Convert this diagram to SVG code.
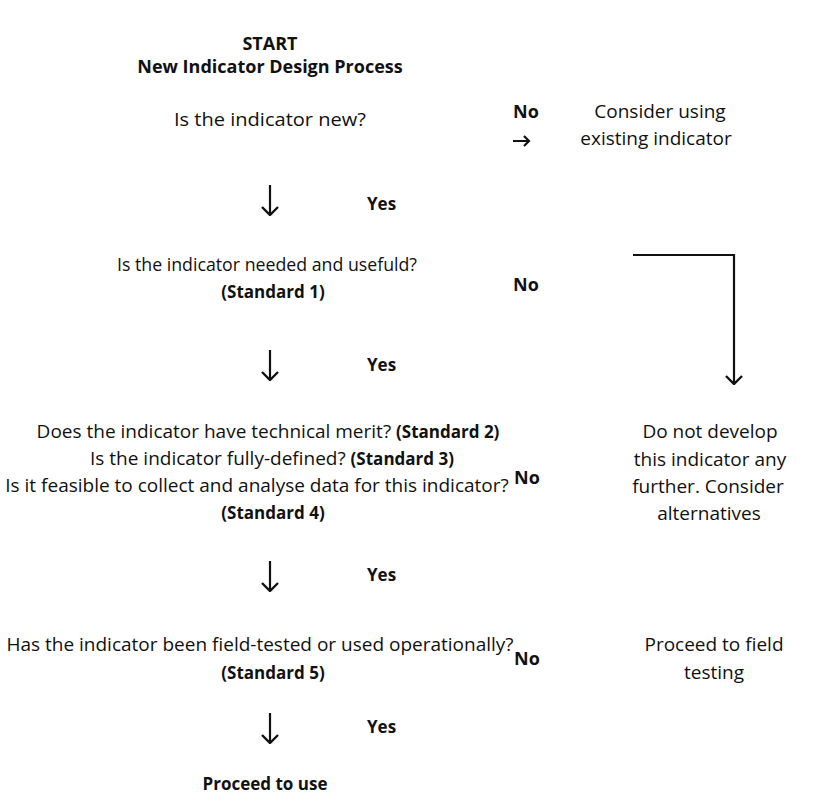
<svg xmlns="http://www.w3.org/2000/svg" width="820" height="804" viewBox="0 0 820 804">
  <style>
    text { font-family: "Open Sans", Lato, "Liberation Sans", sans-serif; font-size: 19px; fill: #111; }
    .c { text-anchor: middle; }
    .b { font-weight: bold; font-size: 18px; }
    .s { font-weight: bold; font-size: 17px; }
    .conn { fill: none; stroke: #111; stroke-width: 2.2; }
  </style>
  <defs>
    <marker id="head" viewBox="0 0 10 18" refX="9" refY="9" markerWidth="10" markerHeight="18" markerUnits="userSpaceOnUse" orient="auto">
      <path d="M1,1 L9,9 L1,17" fill="none" stroke="#111" stroke-width="2.4"/>
    </marker>
  </defs>
  <rect width="820" height="804" fill="#fff"/>

  <g id="start">
    <text class="c b" x="270" y="50">START</text>
    <text class="c b" x="270" y="73">New Indicator Design Process</text>
  </g>

  <g id="q-new">
    <text class="c" x="270" y="126" textLength="192" lengthAdjust="spacingAndGlyphs">Is the indicator new?</text>
  </g>
  <g id="no-new">
    <text class="b" x="513" y="118">No</text>
  </g>
  <g id="existing">
    <text class="c" x="660" y="118">Consider using</text>
    <text class="c" x="656" y="145">existing indicator</text>
  </g>

  <g id="q-needed">
    <text class="c" x="267" y="271" textLength="300" lengthAdjust="spacingAndGlyphs">Is the indicator needed and usefuld?</text>
    <text class="c s" x="273" y="298">(Standard 1)</text>
  </g>
  <g id="no-needed">
    <text class="b" x="513" y="291">No</text>
  </g>

  <g id="q-merit">
    <text class="c" x="268" y="438">Does the indicator have technical merit? <tspan class="s">(Standard 2)</tspan></text>
    <text class="c" x="272" y="465">Is the indicator fully-defined? <tspan class="s">(Standard 3)</tspan></text>
    <text class="c" x="257" y="492">Is it feasible to collect and analyse data for this indicator?</text>
    <text class="c s" x="273" y="519">(Standard 4)</text>
  </g>
  <g id="no-merit">
    <text class="b" x="514" y="484">No</text>
  </g>
  <g id="do-not-develop">
    <text class="c" x="710" y="438">Do not develop</text>
    <text class="c" x="710" y="466">this indicator any</text>
    <text class="c" x="708" y="493">further. Consider</text>
    <text class="c" x="709" y="520">alternatives</text>
  </g>

  <g id="q-tested">
    <text class="c" x="260" y="651">Has the indicator been field-tested or used operationally?</text>
    <text class="c s" x="273" y="679">(Standard 5)</text>
  </g>
  <g id="no-tested">
    <text class="b" x="514" y="665">No</text>
  </g>
  <g id="field-testing">
    <text class="c" x="714" y="651">Proceed to field</text>
    <text class="c" x="714" y="679">testing</text>
  </g>

  <g id="use">
    <text class="c b" x="265" y="790" style="font-size:17px">Proceed to use</text>
  </g>

  <g id="yes-labels">
    <text class="b" x="367" y="210" style="font-size:17px">Yes</text>
    <text class="b" x="367" y="371" style="font-size:17px">Yes</text>
    <text class="b" x="367" y="581" style="font-size:17px">Yes</text>
    <text class="b" x="367" y="733" style="font-size:17px">Yes</text>
  </g>

  <g id="connectors">
    <path class="conn" d="M270,185 V215" marker-end="url(#head)"/>
    <path class="conn" d="M270,350 V380" marker-end="url(#head)"/>
    <path class="conn" d="M270,561 V591" marker-end="url(#head)"/>
    <path class="conn" d="M270,713 V743" marker-end="url(#head)"/>
    <path class="conn" d="M633,255 H734 V384" marker-end="url(#head)"/>
    <path class="conn" stroke-width="1.8" d="M513,141 H529 M524,136 L529,141 L524,146"/>
  </g>
</svg>
